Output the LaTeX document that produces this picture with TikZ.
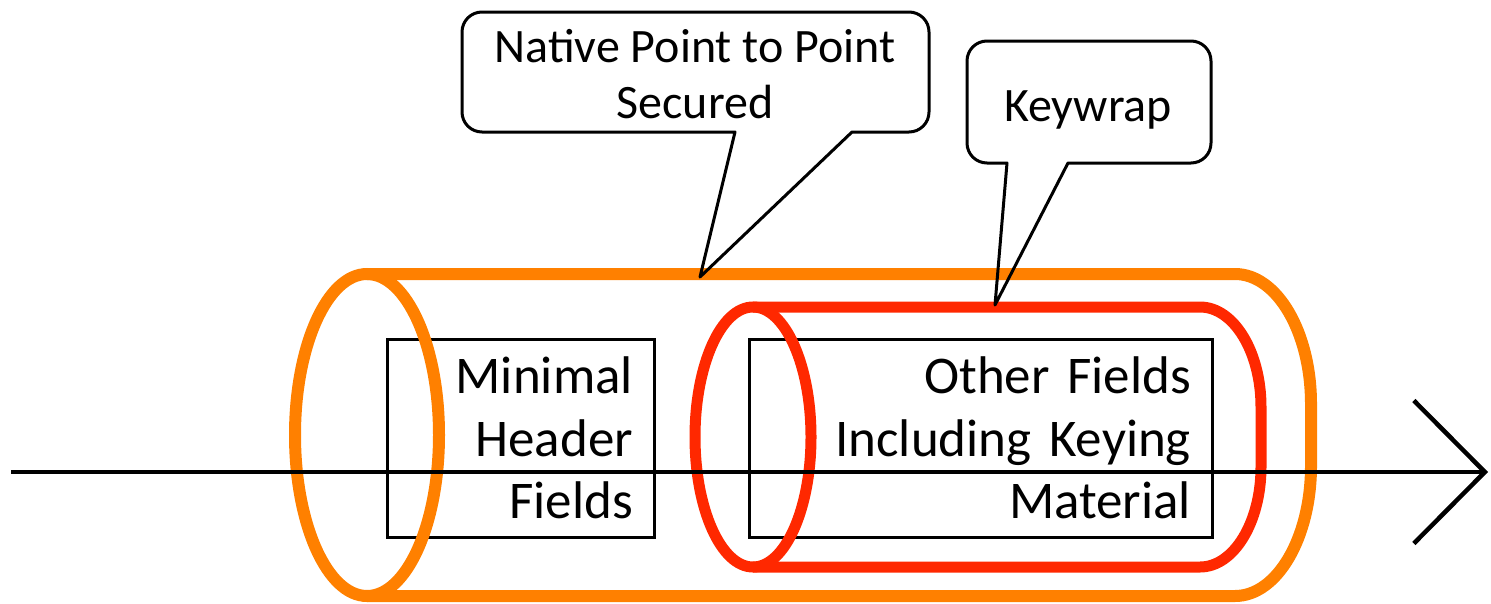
\documentclass[tikz,border=0pt]{standalone}
\usepackage{fontspec}
\setmainfont{Carlito}
\usetikzlibrary{arrows.meta}
\definecolor{outer}{RGB}{255, 128, 0}
\definecolor{inner}{RGB}{255, 40, 0}

\begin{document}
\begin{tikzpicture}[
   x=1pt, y=-1pt,
   fieldbox/.style={rectangle, draw=black, line width=3, inner xsep=21, inner ysep=0,
                    minimum height=198pt, align=right, font=\fontsize{53}{62.5}\selectfont},
   callbox/.style={draw=black, line width=3, line join=round},
   calltext/.style={align=center, inner sep=0, font=\fontsize{48}{56}\selectfont},
   outerpipe/.style={draw=outer, line width=12},
   innerpipe/.style={draw=inner, line width=11},
   axis/.style={draw=black, line width=4.5, -{Straight Barb[length=71pt, width=143pt]}}
  ]
  \useasboundingbox (0, 0) rectangle (1491, 603);

  % Fields
  \node (minhdr) at (520.5, 438) [fieldbox, text width=225pt] {Minimal\\Header\\Fields};
  \node (other)  at (980.5, 438) [fieldbox, text width=421pt] {Other Fields\\Including Keying\\Material};

  % Tunnels
  \draw[outerpipe] (367, 435) ellipse [x radius=72, y radius=161];
  \draw[outerpipe] (367, 274) -- (1235, 274)
    arc [start angle=-90, end angle=0, x radius=76, y radius=130] -- (1311, 466)
    arc [start angle=0, end angle=90, x radius=76, y radius=130] -- (367, 596);

  \draw[innerpipe] (753, 437) ellipse [x radius=58, y radius=130];
  \draw[innerpipe] (753, 307) -- (1200, 307)
    arc [start angle=-90, end angle=0, x radius=61, y radius=100] -- (1261, 467)
    arc [start angle=0, end angle=90, x radius=61, y radius=100] -- (753, 567);

  % Time axis
  \coordinate (start) at (11, 472);
  \coordinate (end) at (1488, 472);
  \draw[axis] (start) -- (end);

  % Callouts
  \coordinate (nptip) at (700, 277);
  \coordinate (kwtip) at (995, 305);

  \node (secured) at (695, 74) [calltext] {Native Point to Point\\Secured};
  \draw[callbox] (852, 132) [rounded corners=20] -- (929, 132) -- (929, 12) -- (462, 12)
    -- (462, 132) [sharp corners] -- (735, 132) -- (nptip) -- cycle;

  \node (keywrap) at (1088, 121) [calltext, anchor=base] {Keywrap};
  \draw[callbox] (1068, 163) [rounded corners=20] -- (1211, 163) -- (1211, 41) -- (967, 41)
    -- (967, 163) [sharp corners] -- (1007, 163) -- (kwtip) -- cycle;

\end{tikzpicture}
\end{document}
